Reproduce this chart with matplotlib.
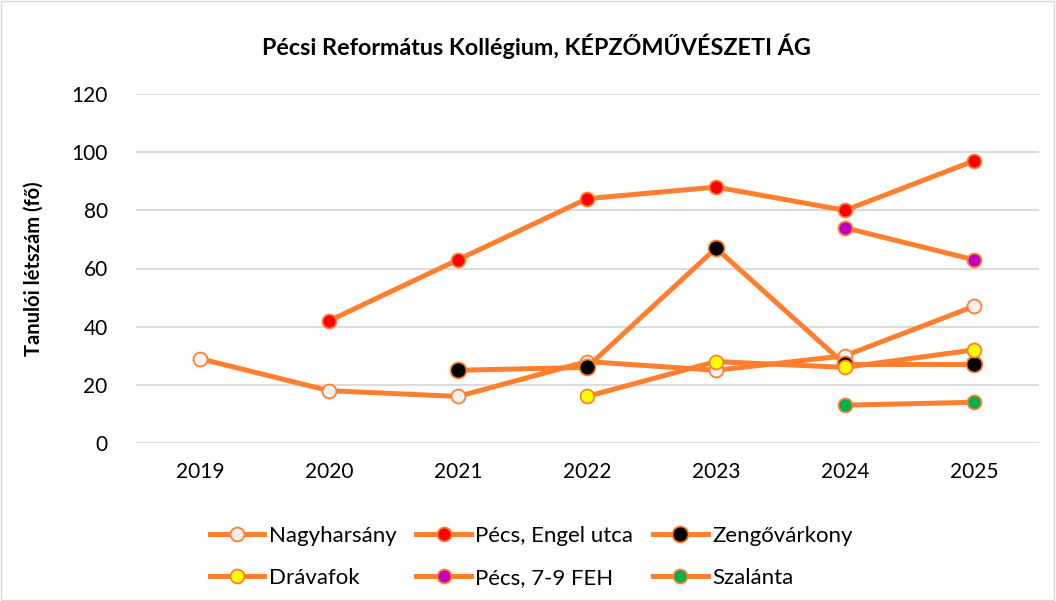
import matplotlib.pyplot as plt
import numpy as np

plt.rcParams['font.family'] = ['Lato', 'DejaVu Sans']

years = ['2019', '2020', '2021', '2022', '2023', '2024', '2025']
nan = np.nan

# tanulói létszám telephelyenként
nagyharsany = [29, 18, 16, 28, 25, 30, 47]
pecs_engel = [nan, 42, 63, 84, 88, 80, 97]
zengovarkony = [nan, nan, 25, 26, 67, 27, 27]
dravafok = [nan, nan, nan, 16, 28, 26, 32]
pecs_feh = [nan, nan, nan, nan, nan, 74, 63]
szalanta = [nan, nan, nan, nan, nan, 13, 14]

series = [
    ('Nagyharsány', nagyharsany, '#F2F2F2', 10),
    ('Pécs, Engel utca', pecs_engel, '#FF0000', 10),
    ('Zengővárkony', zengovarkony, '#000000', 11.5),
    ('Drávafok', dravafok, '#FFFF00', 10),
    ('Pécs, 7-9 FEH', pecs_feh, '#C000C0', 10),
    ('Szalánta', szalanta, '#00B050', 10),
]

orange = '#FF7F2E'

fig = plt.figure(figsize=(10.56, 6.01), dpi=100)
ax = fig.add_axes([135.5/1056, 1-443/601, (1038.5-135.5)/1056, (443-94)/601])

x = np.arange(len(years))
handles = []
for name, vals, fc, ms in series:
    h, = ax.plot(x, vals, color=orange, linewidth=3.6, marker='o', markersize=ms,
                 markerfacecolor=fc, markeredgecolor=orange, markeredgewidth=1.3,
                 label=name, zorder=3)
    handles.append(h)

ax.set_xlim(-0.5, 6.5)
ax.set_ylim(0, 120)
ax.set_yticks(range(0, 121, 20))
ax.set_xticks(x)
ax.set_xticklabels(years)
ax.tick_params(length=0, labelsize=15, colors='#000000')
ax.tick_params(axis='y', pad=20)
ax.tick_params(axis='x', pad=14)
ax.grid(axis='y', color='#D9D9D9', linewidth=1.3)
ax.set_axisbelow(True)
for s in ax.spines.values():
    s.set_visible(False)

ax.set_ylabel('Tanulói létszám (fő)', fontsize=14.5, fontweight='bold', labelpad=20)
fig.suptitle('Pécsi Református Kollégium, KÉPZŐMŰVÉSZETI ÁG', x=0.508, y=0.945,
             fontsize=16.8, fontweight='bold')

# soronként töltse ki a jelmagyarázatot (mint az Excel)
order = [0, 3, 1, 4, 2, 5]
fig.legend([handles[i] for i in order], [series[i][0] for i in order],
           loc='upper center', bbox_to_anchor=(0.503, 0.158), ncol=3, frameon=False,
           fontsize=16, handlelength=2.45, columnspacing=0.9, handletextpad=0.2,
           labelspacing=1.0)

# keret a diagram körül
fig.patches.append(plt.Rectangle((0.001, 0.001), 0.997, 0.997, transform=fig.transFigure,
                                 fill=False, edgecolor='#D9D9D9', linewidth=1))

plt.savefig('out.png', dpi=100)
